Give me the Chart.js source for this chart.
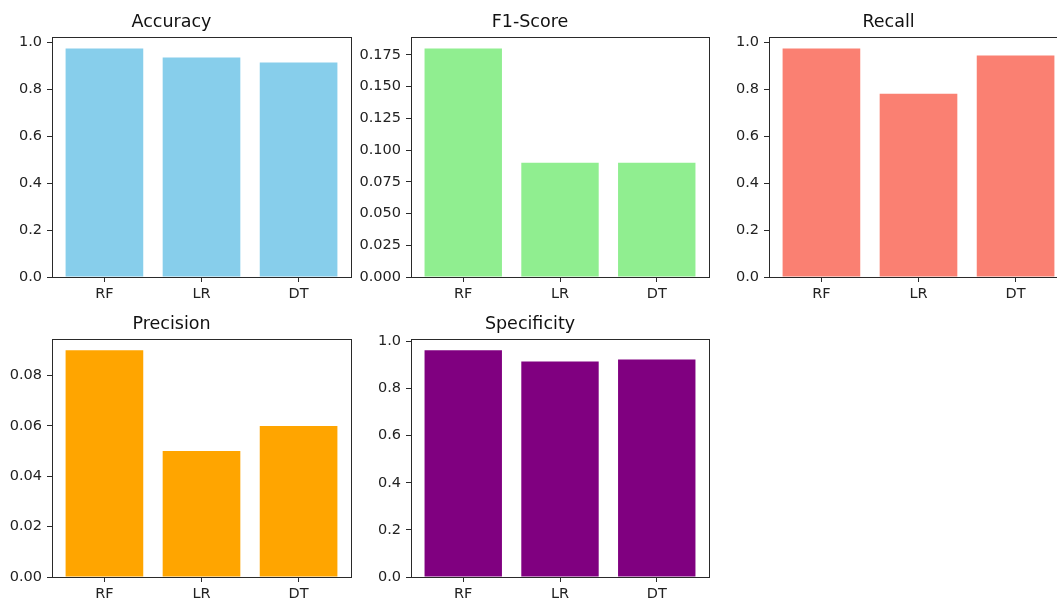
<!DOCTYPE html>
<html lang="en">
<head>
  <title>Model metrics</title>
  <script src="https://cdn.jsdelivr.net/npm/chart.js"></script>
  <style>
    html, body { margin: 0; padding: 0; background: #fff; overflow: hidden; }
    body { width: 1057px; height: 599px; position: relative; }
    .panel { position: absolute; }
  </style>
</head>
<body>

<script>
  // models on the x axis
  const models = ['RF', 'LR', 'DT'];

  // metric values
  const accuracy = [0.974, 0.935, 0.914];
  const f1Score = [0.18, 0.09, 0.09];
  const recall = [0.973, 0.78, 0.943];
  const precision = [0.09, 0.05, 0.06];
  const specificity = [0.962, 0.915, 0.923];

  // y tick labels
  const unitTicks = [0, 0.2, 0.4, 0.6, 0.8, 1.0];
  const f1Ticks = [0, 0.025, 0.05, 0.075, 0.1, 0.125, 0.15, 0.175];
  const precisionTicks = [0, 0.02, 0.04, 0.06, 0.08];

  const FONT = "'DejaVu Sans', sans-serif";
  const INK = '#222';
  const LINE = '#2a2a2a';

  // left/top of the plot area, its width and height
  const panels = [
    { title: 'Accuracy', data: accuracy, color: '#87CEEB', ticks: unitTicks, digits: 1, L: 52, T: 37, W: 299, H: 240 },
    { title: 'F1-Score', data: f1Score, color: '#90EE90', ticks: f1Ticks, digits: 3, L: 411, T: 37, W: 298, H: 240 },
    { title: 'Recall', data: recall, color: '#FA8072', ticks: unitTicks, digits: 1, L: 769, T: 37, W: 299, H: 240 },
    { title: 'Precision', data: precision, color: '#FFA500', ticks: precisionTicks, digits: 2, L: 52, T: 339, W: 299, H: 238 },
    { title: 'Specificity', data: specificity, color: '#800080', ticks: unitTicks, digits: 1, L: 411, T: 339, W: 298, H: 238 },
  ];

  const Y_W = 60, TITLE_H = 37, X_H = 30, PAD_R = 3;

  // matplotlib style box round the plot area
  const framePlugin = {
    id: 'frame',
    afterDraw(chart) {
      const a = chart.chartArea;
      const ctx = chart.ctx;
      ctx.save();
      ctx.strokeStyle = LINE;
      ctx.lineWidth = 1;
      ctx.strokeRect(Math.round(a.left) + 0.5, Math.round(a.top) + 0.5,
        Math.round(a.right - a.left), Math.round(a.bottom - a.top));
      ctx.restore();
    }
  };

  panels.forEach(p => {
    const div = document.createElement('div');
    div.className = 'panel';
    const w = Y_W + p.W + PAD_R, h = TITLE_H + p.H + X_H;
    div.style.left = (p.L - Y_W) + 'px';
    div.style.top = (p.T - TITLE_H) + 'px';
    div.style.width = w + 'px';
    div.style.height = h + 'px';
    const canvas = document.createElement('canvas');
    canvas.width = w;
    canvas.height = h;
    div.appendChild(canvas);
    document.body.appendChild(div);

    const yMax = Math.max(...p.data) * 1.05;

    new Chart(canvas.getContext('2d'), {
      type: 'bar',
      data: {
        datasets: [{
          data: p.data.map((v, i) => ({ x: i, y: v })),
          backgroundColor: p.color,
          borderWidth: 0,
          barPercentage: 0.8,
          categoryPercentage: 1.0,
        }]
      },
      options: {
        responsive: false,
        animation: false,
        events: [],
        layout: { padding: { left: 0, right: PAD_R, top: 0, bottom: 0 } },
        plugins: {
          legend: { display: false },
          tooltip: { enabled: false },
          title: {
            display: true,
            text: p.title,
            color: '#111',
            font: { family: FONT, size: 17.5, weight: 'normal', lineHeight: 1.2 },
            padding: { top: 12, bottom: 4 },
          },
        },
        scales: {
          x: {
            type: 'linear',
            bounds: 'data',
            offset: false,
            min: -0.54,
            max: 2.54,
            afterBuildTicks: s => { s.ticks = models.map((m, i) => ({ value: i })); },
            afterFit: s => { s.height = X_H; },
            grid: { display: true, offset: false, drawOnChartArea: false, drawTicks: true, tickLength: 5, tickColor: LINE, lineWidth: 1 },
            border: { display: true, color: LINE, width: 1 },
            ticks: {
              color: INK,
              padding: 4,
              maxRotation: 0,
              autoSkip: false,
              font: { family: FONT, size: 14.5 },
              callback: v => models[v],
            },
          },
          y: {
            type: 'linear',
            bounds: 'data',
            min: 0,
            max: yMax,
            afterBuildTicks: s => { s.ticks = p.ticks.map(v => ({ value: v })); },
            afterFit: s => { s.width = Y_W; },
            grid: { display: true, drawOnChartArea: false, drawTicks: true, tickLength: 5, tickColor: LINE, lineWidth: 1 },
            border: { display: true, color: LINE, width: 1 },
            ticks: {
              color: INK,
              padding: 5,
              autoSkip: false,
              font: { family: FONT, size: 14.5 },
              callback: v => Number(v).toFixed(p.digits),
            },
          },
        },
      },
      plugins: [framePlugin],
    });
  });
</script>

</body>
</html>
